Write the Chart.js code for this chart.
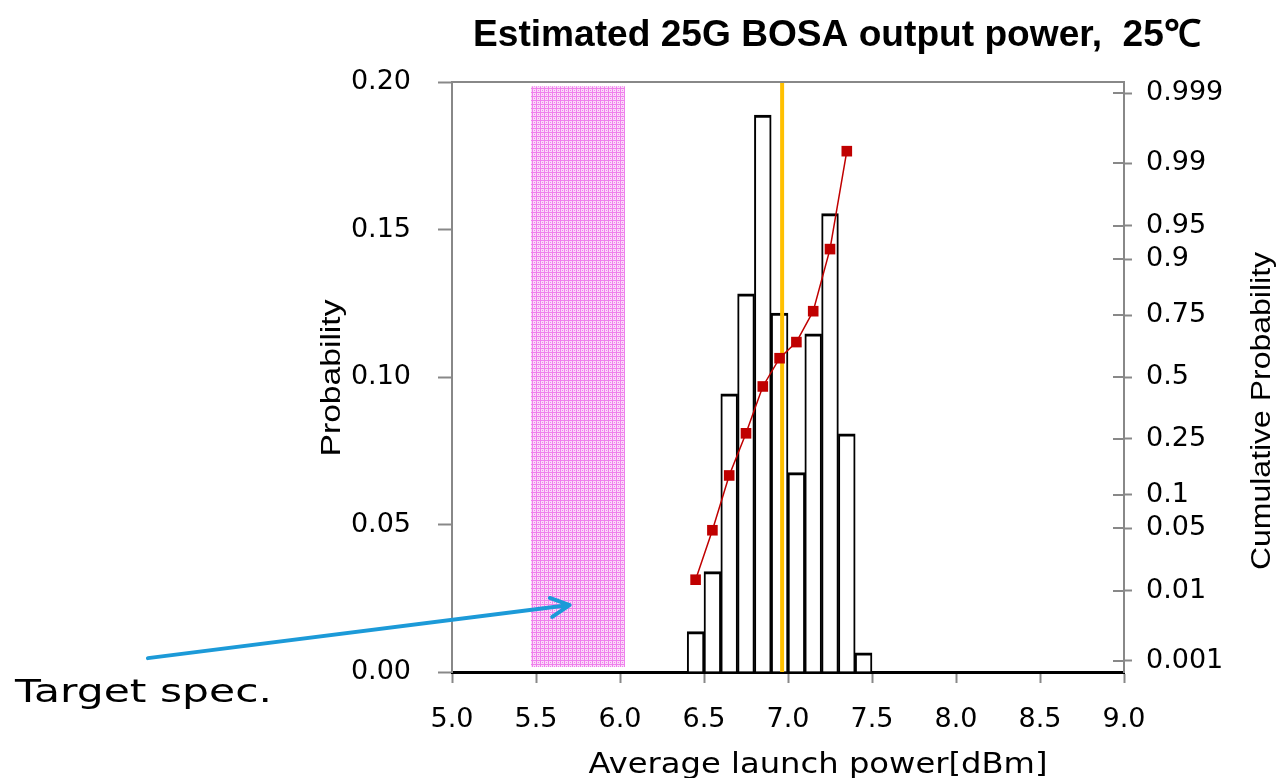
<!DOCTYPE html>
<html>
<head>
<meta charset="utf-8">
<script src="https://cdn.jsdelivr.net/npm/chart.js@4.4.1/dist/chart.umd.min.js"></script>
<style>
  html, body { margin: 0; padding: 0; background: #fff; }
  #chart { display: block; }
</style>
</head>
<body>
<canvas id="chart" width="1279" height="778"></canvas>
<script>
// histogram: bin centres [dBm] and probability of each bin
const binCenters = [6.45, 6.55, 6.65, 6.75, 6.85, 6.95, 7.05, 7.15, 7.25, 7.35, 7.45];
const binProb = [0.0137, 0.0340, 0.0943, 0.1282, 0.1888, 0.1217, 0.0676, 0.1146, 0.1554, 0.0807, 0.0065];

// cumulative probability at the bin centres (normal probability axis)
const cumX = [6.45, 6.55, 6.65, 6.75, 6.85, 6.95, 7.05, 7.15, 7.25, 7.35];
const cumProb = [0.0137, 0.0477, 0.142, 0.270, 0.459, 0.581, 0.648, 0.763, 0.918, 0.993];

// mean launch power (orange marker) and the target spec window
const meanPower = 6.965;
const specX = [5.47, 6.03];
const specY = [0.0017, 0.1986];

const xTicks = [5.0, 5.5, 6.0, 6.5, 7.0, 7.5, 8.0, 8.5, 9.0];
const leftTicks = [0, 0.05, 0.10, 0.15, 0.20];
const rightTicks = [0.001, 0.01, 0.05, 0.1, 0.25, 0.5, 0.75, 0.9, 0.95, 0.99, 0.999];
const rightTickLabels = ['0.001', '0.01', '0.05', '0.1', '0.25', '0.5', '0.75', '0.9', '0.95', '0.99', '0.999'];

// "Target spec." arrow, in data units (x, probability)
const arrowFrom = [3.19, 0.0047];
const arrowTo = [5.70, 0.0227];

// inverse normal cdf (Acklam), used for the cumulative probability axis
function probit(p) {
  const a = [-3.969683028665376e+01, 2.209460984245205e+02, -2.759285104469687e+02, 1.383577518672690e+02, -3.066479806614716e+01, 2.506628277459239e+00];
  const b = [-5.447609879822406e+01, 1.615858368580409e+02, -1.556989798598866e+02, 6.680131188771972e+01, -1.328068155288572e+01];
  const c = [-7.784894002430293e-03, -3.223964580411365e-01, -2.400758277161838e+00, -2.549732539343734e+00, 4.374664141464968e+00, 2.938163982698783e+00];
  const d = [7.784695709041462e-03, 3.224671290700398e-01, 2.445134137142996e+00, 3.754408661907416e+00];
  const plow = 0.02425;
  let q, r;
  if (p < plow) {
    q = Math.sqrt(-2 * Math.log(p));
    return (((((c[0]*q+c[1])*q+c[2])*q+c[3])*q+c[4])*q+c[5]) / ((((d[0]*q+d[1])*q+d[2])*q+d[3])*q+1);
  }
  if (p > 1 - plow) {
    q = Math.sqrt(-2 * Math.log(1 - p));
    return -(((((c[0]*q+c[1])*q+c[2])*q+c[3])*q+c[4])*q+c[5]) / ((((d[0]*q+d[1])*q+d[2])*q+d[3])*q+1);
  }
  q = p - 0.5;
  r = q * q;
  return (((((a[0]*r+a[1])*r+a[2])*r+a[3])*r+a[4])*r+a[5])*q / (((((b[0]*r+b[1])*r+b[2])*r+b[3])*r+b[4])*r+1);
}

function makeHatch() {
  const c = document.createElement('canvas');
  c.width = 4;
  c.height = 4;
  const g = c.getContext('2d');
  g.fillStyle = '#fbdaf8';
  g.fillRect(0, 0, 4, 4);
  g.fillStyle = '#ef80ed';
  g.fillRect(0, 0, 4, 1);
  g.fillRect(0, 0, 1, 4);
  g.fillRect(2, 2, 1, 1);
  return g.createPattern(c, 'repeat');
}

// draw text squeezed/stretched to a given width
function fitText(ctx, text, x, y, font, width, opts = {}) {
  ctx.save();
  ctx.font = font;
  const w = ctx.measureText(text).width;
  ctx.translate(x, y);
  if (opts.rotate) ctx.rotate(opts.rotate);
  ctx.scale(width / w, 1);
  ctx.textAlign = opts.align || 'center';
  ctx.textBaseline = opts.baseline || 'alphabetic';
  ctx.fillStyle = opts.color || '#000';
  ctx.fillText(text, 0, 0);
  ctx.restore();
}

const decor = {
  id: 'decor',
  afterDraw(chart) {
    const { ctx, chartArea: a, scales } = chart;
    ctx.save();
    ctx.strokeStyle = '#888';
    ctx.lineWidth = 2;
    ctx.beginPath();
    ctx.moveTo(a.left, a.top);
    ctx.lineTo(a.right, a.top);
    // right axis ticks cross the axis line
    scales.y2.ticks.forEach(t => {
      const y = Math.round(scales.y2.getPixelForValue(t.value));
      ctx.moveTo(a.right - 11, y);
      ctx.lineTo(a.right, y);
    });
    ctx.stroke();

    // arrow to the spec window
    const x0 = scales.x.getPixelForValue(arrowFrom[0]);
    const y0 = scales.y.getPixelForValue(arrowFrom[1]);
    const x1 = scales.x.getPixelForValue(arrowTo[0]);
    const y1 = scales.y.getPixelForValue(arrowTo[1]);
    const ang = Math.atan2(y1 - y0, x1 - x0);
    ctx.strokeStyle = '#1c9ad8';
    ctx.lineWidth = 4;
    ctx.lineCap = 'round';
    ctx.lineJoin = 'round';
    ctx.beginPath();
    ctx.moveTo(x0, y0);
    ctx.lineTo(x1, y1);
    ctx.moveTo(x1 - 21 * Math.cos(ang - 0.47), y1 - 21 * Math.sin(ang - 0.47));
    ctx.lineTo(x1, y1);
    ctx.lineTo(x1 - 21 * Math.cos(ang + 0.47), y1 - 21 * Math.sin(ang + 0.47));
    ctx.stroke();
    ctx.restore();

    fitText(ctx, 'Estimated 25G BOSA output power,  25℃', 837, 46, 'bold 37px "Liberation Sans"', 728);
    fitText(ctx, 'Probability', 333, 378, '27px "Liberation Sans"', 157, { rotate: -Math.PI / 2, baseline: 'middle' });
    fitText(ctx, 'Cumulative Probability', 1263, 411, '27px "Liberation Sans"', 318, { rotate: -Math.PI / 2, baseline: 'middle' });
    fitText(ctx, 'Average launch power[dBm]', 818, 773, '29px "DejaVu Sans"', 459);
    fitText(ctx, 'Target spec.', 15, 702, '32px "DejaVu Sans"', 257, { align: 'left' });
  }
};

const tickFont = { family: '"DejaVu Sans"', size: 27 };

new Chart(document.getElementById('chart'), {
  type: 'bar',
  data: {
    datasets: [
      {
        type: 'line',
        data: [{ x: specX[0], y: specY[1] }, { x: specX[1], y: specY[1] }],
        fill: { value: specY[0] },
        backgroundColor: makeHatch(),
        borderWidth: 0,
        pointRadius: 0,
        yAxisID: 'y',
        order: 4,
      },
      {
        type: 'bar',
        data: binCenters.map((x, i) => ({ x: x, y: binProb[i] })),
        backgroundColor: '#ffffff',
        borderColor: '#000000',
        borderWidth: { top: 3, left: 2, right: 2, bottom: 0 },
        borderSkipped: 'start',
        barPercentage: 1,
        categoryPercentage: 1,
        yAxisID: 'y',
        order: 3,
      },
      {
        type: 'line',
        data: [{ x: meanPower, y: 0 }, { x: meanPower, y: 0.2 }],
        borderColor: '#ffc000',
        borderWidth: 4,
        pointRadius: 0,
        yAxisID: 'y',
        order: 2,
      },
      {
        type: 'line',
        data: cumX.map((x, i) => ({ x: x, y: probit(cumProb[i]) })),
        borderColor: '#c00000',
        borderWidth: 1.5,
        pointStyle: 'rect',
        pointRadius: 7.5,
        pointBackgroundColor: '#c00000',
        pointBorderWidth: 0,
        yAxisID: 'y2',
        order: 1,
      },
    ],
  },
  options: {
    responsive: false,
    devicePixelRatio: 1,
    animation: false,
    layout: { padding: { top: 82, left: 0, right: 0, bottom: 0 } },
    plugins: { legend: { display: false }, title: { display: false }, tooltip: { enabled: false } },
    scales: {
      x: {
        type: 'linear',
        min: 5,
        max: 9,
        offset: false,
        afterBuildTicks: s => { s.ticks = xTicks.map(v => ({ value: v })); },
        afterFit: s => { s.height = 106; },
        ticks: { callback: v => v.toFixed(1), font: tickFont, color: '#000', padding: 21, maxRotation: 0, autoSkip: false },
        grid: { drawOnChartArea: false, offset: false, tickLength: 11, tickColor: '#888', tickWidth: 2 },
        border: { color: '#000', width: 3 },
      },
      y: {
        position: 'left',
        min: 0,
        max: 0.2,
        afterBuildTicks: s => { s.ticks = leftTicks.map(v => ({ value: v })); },
        afterFit: s => { s.width = 452; },
        ticks: { callback: v => v.toFixed(2), font: tickFont, color: '#000', padding: 27 },
        grid: { drawOnChartArea: false, tickLength: 14, tickColor: '#888', tickWidth: 2 },
        border: { color: '#888', width: 2 },
      },
      y2: {
        position: 'right',
        min: -3.21,
        max: 3.21,
        afterBuildTicks: s => { s.ticks = rightTicks.map(p => ({ value: probit(p) })); },
        afterFit: s => { s.width = 155; },
        ticks: { callback: (v, i) => rightTickLabels[i], font: tickFont, color: '#000', padding: 14, autoSkip: false },
        grid: { drawOnChartArea: false, tickLength: 8, tickColor: '#888', tickWidth: 2 },
        border: { color: '#888', width: 2 },
      },
    },
  },
  plugins: [decor],
});
</script>
</body>
</html>
